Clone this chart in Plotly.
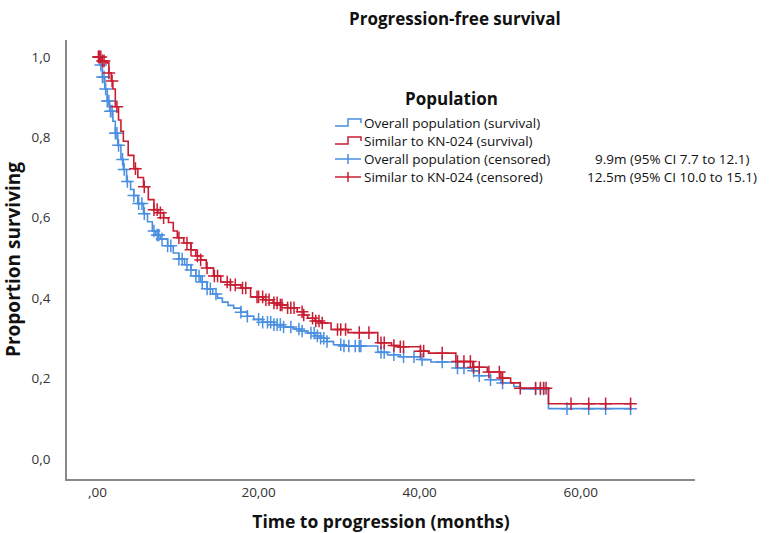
import plotly.graph_objects as go

# Kaplan-Meier step data: time (months) and survival proportion after each step
overall_time = [0, 0.3, 0.6, 0.9, 1.2, 1.5, 1.9, 2.2, 2.5, 2.9, 3.2, 3.6, 4.1, 4.5, 5.0, 5.7,
                6.2, 6.8, 7.2, 7.8, 8.7, 9.4, 10.1, 10.8, 11.6, 12.2, 12.8, 13.6, 14.3, 14.9,
                15.5, 16.2, 16.9, 17.8, 18.6, 19.4, 20.5, 21.9, 23.1, 24.3, 25.2, 26.1, 27.0,
                27.7, 28.5, 29.3, 30.5, 34.8, 36.0, 37.6, 40.1, 41.4, 44.5, 46.5, 47.4, 48.8,
                50.1, 51.7, 52.5, 56.0, 66.2]
overall_surv = [1.0, 0.98, 0.95, 0.92, 0.89, 0.865, 0.84, 0.81, 0.78, 0.745, 0.72, 0.69, 0.67,
                0.655, 0.635, 0.61, 0.59, 0.567, 0.557, 0.547, 0.53, 0.512, 0.497, 0.483, 0.47,
                0.455, 0.44, 0.423, 0.41, 0.40, 0.39, 0.382, 0.375, 0.365, 0.355, 0.347, 0.34,
                0.334, 0.328, 0.323, 0.318, 0.313, 0.306, 0.30, 0.292, 0.284, 0.281, 0.265,
                0.259, 0.254, 0.247, 0.241, 0.226, 0.219, 0.207, 0.197, 0.189, 0.18, 0.174,
                0.125, 0.125]

kn024_time = [0, 0.5, 1.0, 1.4, 1.7, 1.9, 2.2, 2.6, 2.9, 3.2, 3.8, 4.5, 5.0, 5.7, 6.3, 7.0,
              7.5, 8.2, 8.8, 9.4, 9.9, 10.7, 11.6, 12.2, 12.8, 13.5, 14.4, 15.3, 16.5, 17.8,
              19.0, 20.6, 21.8, 22.7, 23.6, 24.8, 25.6, 26.1, 27.0, 27.7, 29.0, 31.1, 34.8,
              36.5, 37.3, 40.1, 41.1, 44.5, 46.6, 48.4, 50.1, 51.3, 52.5, 56.0, 66.2]
kn024_surv = [1.0, 0.99, 0.985, 0.96, 0.94, 0.92, 0.876, 0.843, 0.815, 0.79, 0.755, 0.722,
              0.70, 0.677, 0.645, 0.62, 0.612, 0.60, 0.588, 0.567, 0.55, 0.537, 0.52, 0.505,
              0.495, 0.475, 0.455, 0.44, 0.433, 0.425, 0.403, 0.396, 0.388, 0.383, 0.376,
              0.366, 0.358, 0.35, 0.343, 0.338, 0.322, 0.314, 0.289, 0.282, 0.279, 0.268,
              0.263, 0.242, 0.228, 0.216, 0.201, 0.189, 0.176, 0.137, 0.137]

# Censoring times (months)
overall_censored = [0.2, 0.4, 0.6, 0.8, 1.0, 1.2, 1.4, 1.6, 1.8, 2.2, 2.4, 2.6, 3.1, 3.3, 3.7,
                    4.5, 5.1, 5.5, 5.8, 7.0, 7.4, 7.6, 8.0, 8.7, 9.1, 10.1, 10.5, 11.1, 11.6,
                    12.2, 12.6, 13.0, 13.6, 14.0, 14.7, 17.8, 18.6, 20.0, 20.5, 21.1, 21.5,
                    21.9, 22.3, 22.7, 23.1, 24.0, 25.0, 25.4, 26.5, 26.9, 27.3, 27.7, 28.1,
                    28.5, 30.2, 30.6, 31.2, 32.0, 32.5, 32.7, 35.2, 35.6, 36.8, 38.0, 39.3,
                    40.3, 42.8, 44.7, 45.5, 46.7, 47.4, 48.8, 50.3, 54.4, 55.0, 55.4, 58.3,
                    61.0, 63.1, 66.2]
kn024_censored = [0.1, 0.2, 0.4, 0.6, 0.8, 1.4, 1.8, 2.4, 4.7, 5.8, 7.0, 7.4, 7.8, 8.2, 10.1,
                  11.1, 11.6, 12.4, 12.8, 13.6, 14.5, 14.9, 16.1, 16.5, 17.1, 18.0, 18.4,
                  19.8, 20.0, 20.5, 20.9, 21.3, 21.9, 22.3, 22.7, 22.9, 23.6, 24.0, 24.4,
                  25.4, 25.6, 26.7, 27.1, 27.5, 27.9, 29.8, 30.2, 30.8, 32.5, 33.7, 35.2,
                  35.6, 36.8, 37.6, 38.0, 40.1, 40.5, 42.8, 44.7, 45.5, 46.3, 46.7, 47.4,
                  48.6, 49.9, 50.3, 52.5, 54.4, 55.0, 55.4, 55.7, 58.8, 61.0, 63.1, 66.2]

x_tickvals = [0, 20, 40, 60]
x_ticktext = [",00", "20,00", "40,00", "60,00"]
y_tickvals = [0.0, 0.2, 0.4, 0.6, 0.8, 1.0]
y_ticktext = ["0,0", "0,2", "0,4", "0,6", "0,8", "1,0"]

legend_labels = ["Overall population (survival)", "Similar to KN-024 (survival)",
                 "Overall population (censored)", "Similar to KN-024 (censored)"]
median_labels = ["9.9m (95% CI 7.7 to 12.1)", "12.5m (95% CI 10.0 to 15.1)"]

BLUE = "#4a8fe0"
RED = "#c81e32"
FONT = "Open Sans"


def surv_at(times, surv, t):
    """Survival level of a step curve at time t."""
    value = surv[0]
    for ti, si in zip(times, surv):
        if ti <= t:
            value = si
        else:
            break
    return value


fig = go.Figure()

for times, surv, cens, color in [
    (overall_time, overall_surv, overall_censored, BLUE),
    (kn024_time, kn024_surv, kn024_censored, RED),
]:
    fig.add_trace(go.Scatter(
        x=times, y=surv, mode="lines", line=dict(color=color, width=1.6, shape="hv"),
        showlegend=False, hoverinfo="skip"))
    fig.add_trace(go.Scatter(
        x=cens, y=[surv_at(times, surv, t) for t in cens], mode="markers",
        marker=dict(symbol="cross-thin", size=9, line=dict(color=color, width=1.5)),
        showlegend=False, hoverinfo="skip"))

# Plot area in pixels
L, R, T, B = 67, 695, 40, 479
W, H = 771, 533


def px(x):
    return (x - L) / (R - L)


def py(y):
    return (B - y) / (B - T)


annotations = [
    dict(text="<b>Progression-free survival</b>", x=px(455), y=py(19),
         font=dict(size=17, color="#111")),
    dict(text="<b>Population</b>", x=px(451), y=py(98), font=dict(size=17, color="#111")),
]
row_y = [123, 141, 159, 177]
for label, ry in zip(legend_labels, row_y):
    annotations.append(dict(text=label, x=px(363), y=py(ry), xanchor="left",
                            font=dict(size=13.5, color="#111")))
for label, ry in zip(median_labels, row_y[2:]):
    annotations.append(dict(text=label, x=px(672), y=py(ry), xanchor="center",
                            font=dict(size=13.5, color="#111")))
for a in annotations:
    a.update(xref="paper", yref="paper", showarrow=False, borderpad=0,
             yanchor=a.get("yanchor", "middle"), xanchor=a.get("xanchor", "center"))
    a["font"]["family"] = FONT

shapes = []
# Step icons for survival curves
for color, ry in [(BLUE, row_y[0]), (RED, row_y[1])]:
    pts = [(335, ry + 3), (348, ry + 3), (348, ry - 4), (361, ry - 4), (361, ry)]
    path = "M " + " L ".join(f"{px(a)},{py(b)}" for a, b in pts)
    shapes.append(dict(type="path", path=path, xref="paper", yref="paper",
                       line=dict(color=color, width=1.5)))
# Cross icons for censored marks
for color, ry in [(BLUE, row_y[2]), (RED, row_y[3])]:
    shapes.append(dict(type="line", x0=px(335), x1=px(361), y0=py(ry), y1=py(ry),
                       xref="paper", yref="paper", line=dict(color=color, width=1.5)))
    shapes.append(dict(type="line", x0=px(348), x1=px(348), y0=py(ry - 5), y1=py(ry + 5),
                       xref="paper", yref="paper", line=dict(color=color, width=1.5)))

fig.update_layout(
    width=W, height=H,
    margin=dict(l=L, r=W - R, t=T, b=H - B, pad=0, autoexpand=False),
    plot_bgcolor="white", paper_bgcolor="white",
    font=dict(family=FONT, size=13, color="#333"),
    annotations=annotations, shapes=shapes,
    xaxis=dict(range=[-3.8, 74.2], tickvals=x_tickvals, ticktext=x_ticktext,
               automargin=False,
               showgrid=False, zeroline=False, showline=True, linecolor="#8a8a8a",
               linewidth=1.5, ticks="", tickfont=dict(size=13.5, color="#333"),
               title=dict(text="<b>Time to progression (months)</b>",
                          font=dict(size=17.5, color="#111"), standoff=20)),
    yaxis=dict(range=[-0.05, 1.042], tickvals=y_tickvals, ticktext=y_ticktext,
               automargin=False,
               showgrid=False, zeroline=False, showline=True, linecolor="#8a8a8a",
               linewidth=1.5, ticks="", ticklabelstandoff=12,
               tickfont=dict(size=13.5, color="#333"),
               title=dict(text="<b>Proportion surviving</b>",
                          font=dict(size=19, color="#111"), standoff=6)),
)

fig.write_html("out.html")
